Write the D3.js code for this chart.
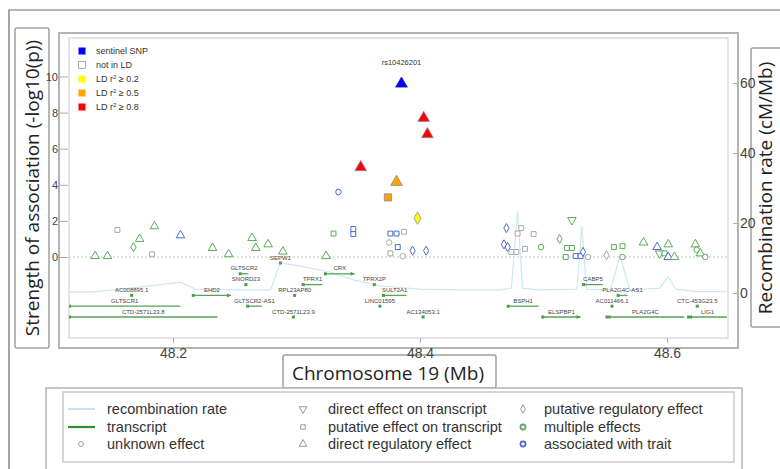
<!DOCTYPE html>
<html><head><meta charset="utf-8">
<script src="https://cdn.jsdelivr.net/npm/d3@7"></script>
<style>
html,body{margin:0;padding:0;background:#fff;}
svg{display:block;}
</style></head>
<body>
<svg id="chart" width="780" height="469"></svg>
<script>
// ---------------- DATA ----------------
const xTicks = [48.2, 48.4, 48.6];
const yLeftTicks = [0, 2, 4, 6, 8, 10];
const yRightTicks = [0, 20, 40, 60];

const sentinelLabel = "rs10426201";

// SNPs: position (Mb), -log10(p), shape, effect group, LD class
const snpPos   = [48.137,48.147,48.155,48.168,48.173,48.183,48.185,48.206,48.232,48.245,48.264,48.267,48.277,48.289,
                  48.324,48.330,48.334,48.346,48.346,48.352,48.374,48.381,48.385,48.403,48.406,48.398,48.376,48.381,
                  48.387,48.375,48.382,48.376,48.386,48.394,48.405,48.470,48.482,48.479,48.492,48.468,48.471,48.474,
                  48.478,48.485,48.498,48.523,48.513,48.519,48.523,48.518,48.526,48.530,48.532,48.536,48.551,48.557,
                  48.564,48.564,48.581,48.592,48.601,48.594,48.598,48.601,48.606,48.623,48.624,48.627,48.631];
const snpLogP  = [0.05,0.05,1.5,0.55,1.0,0.15,1.7,1.2,0.5,0.15,1.05,0.5,0.7,0.3,
                  0.05,1.3,3.6,1.55,1.27,4.97,3.3,4.15,9.6,7.7,6.8,2.15,1.3,1.3,
                  1.4,0.8,0.55,0.2,0.05,0.35,0.35,1.6,1.6,1.3,1.27,0.7,0.55,0.28,
                  0.28,0.45,0.55,2.05,1.0,0.5,0.5,0.0,0.05,0.05,0.28,0.0,0.1,0.55,
                  0.6,0.0,0.8,0.55,0.7,0.2,0.2,0.0,0.0,0.7,0.4,0.2,0.0];
const snpShape = ["up","up","square","diamond","up","square","up","up","up","up","up","up","up","up",
                  "up","square","circle","square","square","up","square","up","up","up","up","diamond","square","square",
                  "square","circle","square","square","circle","diamond","diamond","diamond","square","square","square","diamond","diamond","square",
                  "square","square","circle","down","diamond","square","square","square","square","square","diamond","circle","diamond","square",
                  "square","circle","up","up","up","down","square","up","up","up","circle","up","circle"];
const snpGroup = ["green","green","gray","green","green","gray","green","blue","green","green","green","green","green","green",
                  "green","green","blue","blue","blue","gray","gray","gray","blue","gray","gray","gray","blue","blue",
                  "gray","gray","blue","gray","gray","blue","blue","blue","gray","gray","gray","blue","blue","gray",
                  "gray","gray","green","green","green","green","green","green","blue","blue","blue","gray","gray","green",
                  "green","green","green","blue","green","green","green","blue","green","green","green","green","green"];
const snpLD    = ["none","none","none","none","none","none","none","none","none","none","none","none","none","none",
                  "none","none","none","none","none","r08","r05","r05","sentinel","r08","r08","r02","none","none",
                  "none","none","none","none","none","none","none","none","none","none","none","none","none","none",
                  "none","none","none","none","none","none","none","none","none","none","none","none","none","none",
                  "none","none","none","none","none","none","none","none","none","none","none","none","none"];

// recombination rate (cM/Mb)
const recPos  = [48.10,48.135,48.173,48.206,48.218,48.254,48.279,48.287,48.303,48.327,48.347,48.368,48.400,48.432,48.465,
                 48.474,48.479,48.483,48.497,48.527,48.531,48.535,48.554,48.562,48.570,48.594,48.601,48.607,48.624,48.66];
const recRate = [0.3,0.3,1.7,3.1,1.1,0.9,0.9,8.6,7.7,6.0,3.7,2.0,1.1,0.9,0.9,
                 1.4,23.4,1.4,0.9,1.1,19.1,1.1,0.9,10.5,0.9,1.4,4.6,1.1,0.4,0.4];

// transcripts
const geneName   = ["SEPW1","GLTSCR2","CRX","SNORD23","TPRX1","TPRX2P","CABP5","AC008895.1","EHD2","RPL23AP80",
                    "SULT2A1","PLA2G4C-AS1","GLTSCR1","GLTSCR2-AS1","LINC01595","BSPH1","AC011466.1","CTC-453G23.5",
                    "CTD-2571L23.8","CTD-2571L23.9","AC134053.1","ELSPBP1","PLA2G4C","LIG1"];
const geneStart  = [48.2865,48.254,48.323,48.2585,48.305,48.3625,48.532,48.1660,48.216,48.2980,
                    48.370,48.5600,48.090,48.260,48.3670,48.471,48.5550,48.6240,
                    48.090,48.2970,48.4020,48.499,48.551,48.617];
const geneEnd    = [48.2875,48.261,48.347,48.2595,48.321,48.3635,48.548,48.1670,48.247,48.2990,
                    48.389,48.5680,48.206,48.272,48.3680,48.496,48.5560,48.6250,
                    48.236,48.2980,48.4030,48.530,48.614,48.670];
const geneRow    = [0,1,1,2,2,2,2,3,3,3,3,3,4,4,4,4,4,4,5,5,5,5,5,5];
const geneStrand = ["","","+","","","","","","+","","","","","","","","","","","","","+","-","-"];

// legends
const ldKeys   = ["sentinel","none","r02","r05","r08"];
const ldLabels = ["sentinel SNP","not in LD","LD r2 ≥ 0.2","LD r2 ≥ 0.5","LD r2 ≥ 0.8"];
const ldColors = ["#0000ff","#ffffff","#ffff00","#ffa500","#ff0000"];
const effectKeys   = ["gray","green","blue"];
const effectColors = ["#a8a8a8","#5caa5c","#4a6ad0"];

const legendCol1 = ["recombination rate","transcript","unknown effect"];
const legendCol2 = ["direct effect on transcript","putative effect on transcript","direct regulatory effect"];
const legendCol3 = ["putative regulatory effect","multiple effects","associated with trait"];

// ---------------- DRAW ----------------
const svg = d3.select("#chart");
svg.append("rect").attr("width",780).attr("height",469).attr("fill","#fff");

const P = {l:69, r:728, t:38, b:338};   // inner plot panel
const x  = d3.scaleLinear().domain([48.2,48.6]).range([173,667]);
const yL = d3.scaleLinear().domain([0,10]).range([257,76.5]);
const yR = d3.scaleLinear().domain([0,60]).range([293,83]);
const ldColor = d3.scaleOrdinal().domain(ldKeys).range(ldColors);
const effColor = d3.scaleOrdinal().domain(effectKeys).range(effectColors);
const rowY = d3.scaleLinear().domain([0,5]).range([263,317]);

// frames
svg.append("path").attr("d","M9,469V10H780").attr("fill","none").attr("stroke","#6a6a6a").attr("stroke-width",1.2);
svg.append("rect").attr("x",15).attr("y",28).attr("width",34).attr("height",320).attr("rx",2)
  .attr("fill","#fff").attr("stroke","#a0a0a0").attr("stroke-width",1.5);
svg.append("rect").attr("x",59).attr("y",33).attr("width",679).attr("height",315)
  .attr("fill","#fff").attr("stroke","#b4b4b4").attr("stroke-width",2);
svg.append("rect").attr("x",P.l).attr("y",P.t).attr("width",P.r-P.l).attr("height",P.b-P.t)
  .attr("fill","#fff").attr("stroke","#dcdcdc").attr("stroke-width",1.5);
svg.append("rect").attr("x",751).attr("y",48).attr("width",40).attr("height",279).attr("rx",2)
  .attr("fill","#fff").attr("stroke","#a0a0a0").attr("stroke-width",1.5);

// titles
svg.append("text").attr("transform","translate(39,188) rotate(-90)").attr("text-anchor","middle")
  .attr("font-family","Open Sans").attr("font-size",19).attr("fill","#222")
  .text("Strength of association (-log10(p))");
svg.append("text").attr("transform","translate(772,188) rotate(-90)").attr("text-anchor","middle")
  .attr("font-family","Open Sans").attr("font-size",19).attr("fill","#222")
  .text("Recombination rate (cM/Mb)");

// clip
svg.append("clipPath").attr("id","clip").append("rect")
  .attr("x",P.l).attr("y",P.t).attr("width",P.r-P.l).attr("height",P.b-P.t);
const plot = svg.append("g").attr("clip-path","url(#clip)");

// zero line
plot.append("line").attr("x1",P.l).attr("x2",P.r).attr("y1",yL(0)).attr("y2",yL(0))
  .attr("stroke","#c4c4c4").attr("stroke-dasharray","2,2").attr("stroke-width",1);

// recombination rate
const recData = recPos.map((p,i)=>({p, r:recRate[i]}));
plot.append("path").datum(recData)
  .attr("d", d3.line().x(d=>x(d.p)).y(d=>yR(d.r)))
  .attr("fill","none").attr("stroke","#cde8f2").attr("stroke-width",1.2);

// genes
const genes = geneName.map((n,i)=>({n, s:geneStart[i], e:geneEnd[i], row:geneRow[i], strand:geneStrand[i]}));
const gG = plot.append("g");
genes.forEach(g=>{
  const x1 = Math.max(P.l, x(g.s)), x2 = Math.min(P.r-1, x(g.e));
  const yy = rowY(g.row);
  const w = x2 - x1;
  if (w < 3) {
    gG.append("rect").attr("x",(x1+x2)/2-1.5).attr("y",yy-1.5).attr("width",3).attr("height",3).attr("fill","#4a9e4a");
  } else {
    gG.append("line").attr("x1",x1).attr("x2",x2).attr("y1",yy).attr("y2",yy)
      .attr("stroke","#55a555").attr("stroke-width",1.3);
    gG.append("rect").attr("x",x1-1).attr("y",yy-1.5).attr("width",3).attr("height",3).attr("fill","#4a9e4a");
    if (g.strand==="+") gG.append("path").attr("d",`M${x2-4},${yy-2}L${x2},${yy}L${x2-4},${yy+2}Z`).attr("fill","#4a9e4a");
    if (g.strand==="-") gG.append("path").attr("d",`M${x1+4},${yy-2}L${x1},${yy}L${x1+4},${yy+2}Z`).attr("fill","#4a9e4a");
  }
  gG.append("text").attr("x",(x1+x2)/2).attr("y",yy-3.5).attr("text-anchor","middle")
    .attr("font-family","Liberation Sans").attr("font-size",6).attr("fill","#444").text(g.n);
});

// SNP points
const symType = {up:d3.symbolTriangle, down:d3.symbolTriangle, square:d3.symbolSquare, diamond:d3.symbolDiamond, circle:d3.symbolCircle};
const snps = snpPos.map((p,i)=>({p, v:snpLogP[i], shape:snpShape[i], grp:snpGroup[i], ld:snpLD[i]}));
snps.sort((a,b)=> (a.ld==="none"?0:1) - (b.ld==="none"?0:1));
plot.append("g").selectAll("path").data(snps).join("path")
  .attr("d", d=>{
    const big = d.ld!=="none";
    let size = d.shape==="square" ? (big?52:24) : d.shape==="diamond" ? (big?44:24) : d.shape==="circle" ? (big?48:24) : (big?60:32);
    return d3.symbol().type(symType[d.shape]).size(size)();
  })
  .attr("transform", d=>`translate(${x(d.p)},${yL(d.v)})${d.shape==="down"?" rotate(180)":""}`)
  .attr("fill", d=> d.ld==="none" ? "#fff" : ldColor(d.ld))
  .attr("stroke", d=> d.ld==="sentinel" ? "#2a2a9a" : d.ld==="none" ? effColor(d.grp) : "#8a8aa8")
  .attr("stroke-width", d=> d.ld==="none" ? 1 : 0.8);

// sentinel label
const sent = snps.find(d=>d.ld==="sentinel");
svg.append("text").attr("x",x(sent.p)).attr("y",yL(sent.v)-19).attr("text-anchor","middle")
  .attr("font-family","Liberation Sans").attr("font-size",7.5).attr("fill","#333").text(sentinelLabel);

// LD legend inside panel
const ldL = svg.append("g");
ldKeys.forEach((k,i)=>{
  const yy = 51 + i*14;
  ldL.append("rect").attr("x",78.5).attr("y",yy-3.5).attr("width",7).attr("height",7)
    .attr("fill",ldColors[i]).attr("stroke", k==="none" ? "#999" : "none").attr("stroke-width",0.8);
  const t = ldL.append("text").attr("x",96).attr("y",yy+3).attr("font-family","Liberation Sans")
    .attr("font-size",9).attr("fill","#333");
  const lab = ldLabels[i];
  if (lab.indexOf("r2")>=0) {
    const parts = lab.split("r2");
    t.append("tspan").text(parts[0]+"r");
    t.append("tspan").attr("dy",-3.5).attr("font-size",6).text("2");
    t.append("tspan").attr("dy",3.5).text(parts[1]);
  } else t.text(lab);
});

// axes
const axL = svg.append("g").attr("transform",`translate(68,0)`)
  .call(d3.axisLeft(yL).tickValues(yLeftTicks).tickSize(8).tickPadding(2));
axL.select(".domain").remove();
axL.selectAll("line").attr("stroke","#aaa");
axL.selectAll("text").attr("font-family","Liberation Sans").attr("font-size",11).attr("fill","#444");

const axR = svg.append("g").attr("transform",`translate(733,0)`)
  .call(d3.axisRight(yR).tickValues(yRightTicks).tickSize(5).tickPadding(2));
axR.select(".domain").remove();
axR.selectAll("line").attr("stroke","#aaa");
axR.selectAll("text").attr("font-family","Liberation Sans").attr("font-size",14).attr("fill","#444");

// x title box
svg.append("rect").attr("x",283).attr("y",355).attr("width",213).attr("height",33).attr("rx",2)
  .attr("fill","#fff").attr("stroke","#a0a0a0").attr("stroke-width",1.5);
svg.append("text").attr("x",388).attr("y",380).attr("text-anchor","middle")
  .attr("font-family","Open Sans").attr("font-size",19).attr("fill","#222").text("Chromosome 19 (Mb)");

const axB = svg.append("g").attr("transform",`translate(0,338)`)
  .call(d3.axisBottom(x).tickValues(xTicks).tickSize(5).tickPadding(5).tickFormat(d3.format(".1f")));
axB.select(".domain").remove();
axB.selectAll("line").attr("stroke","#aaa");
axB.selectAll("text").attr("font-family","Liberation Sans").attr("font-size",14).attr("fill","#444");

// bottom legend
svg.append("rect").attr("x",46).attr("y",388).attr("width",696).attr("height",90)
  .attr("fill","#fff").attr("stroke","#b4b4b4").attr("stroke-width",1.5);
svg.append("rect").attr("x",63).attr("y",392).attr("width",671).attr("height",70)
  .attr("fill","#fff").attr("stroke","#c8c8c8").attr("stroke-width",1.5);

const legRows = [409, 427, 444];
const lg = svg.append("g").attr("font-family","Liberation Sans").attr("font-size",14.5).attr("fill","#333");
// column 1
lg.append("line").attr("x1",68).attr("x2",95).attr("y1",legRows[0]).attr("y2",legRows[0]).attr("stroke","#c6e4f0").attr("stroke-width",2);
lg.append("line").attr("x1",68).attr("x2",95).attr("y1",legRows[1]).attr("y2",legRows[1]).attr("stroke","#2f8f2f").attr("stroke-width",2.2);
lg.append("path").attr("d",d3.symbol().type(d3.symbolCircle).size(18)()).attr("transform",`translate(81,${legRows[2]})`)
  .attr("fill","none").attr("stroke","#999").attr("stroke-width",1);
legendCol1.forEach((t,i)=>lg.append("text").attr("x",107).attr("y",legRows[i]+5).text(t));
// column 2
const c2 = [[d3.symbolTriangle,true],[d3.symbolSquare,false],[d3.symbolTriangle,false]];
c2.forEach((s,i)=>lg.append("path").attr("d",d3.symbol().type(s[0]).size(s[0]===d3.symbolSquare?20:26)())
  .attr("transform",`translate(303,${legRows[i]})${s[1]?" rotate(180)":""}`)
  .attr("fill","none").attr("stroke","#999").attr("stroke-width",1));
legendCol2.forEach((t,i)=>lg.append("text").attr("x",328).attr("y",legRows[i]+5).text(t));
// column 3
const c3 = [[d3.symbolDiamond,"#999"],[d3.symbolCircle,effectColors[1]],[d3.symbolCircle,effectColors[2]]];
c3.forEach((s,i)=>lg.append("path").attr("d",d3.symbol().type(s[0]).size(20)())
  .attr("transform",`translate(523,${legRows[i]})`)
  .attr("fill","none").attr("stroke",s[1]).attr("stroke-width",i===0?1:1.8));
legendCol3.forEach((t,i)=>lg.append("text").attr("x",544).attr("y",legRows[i]+5).text(t));
</script>
</body></html>
